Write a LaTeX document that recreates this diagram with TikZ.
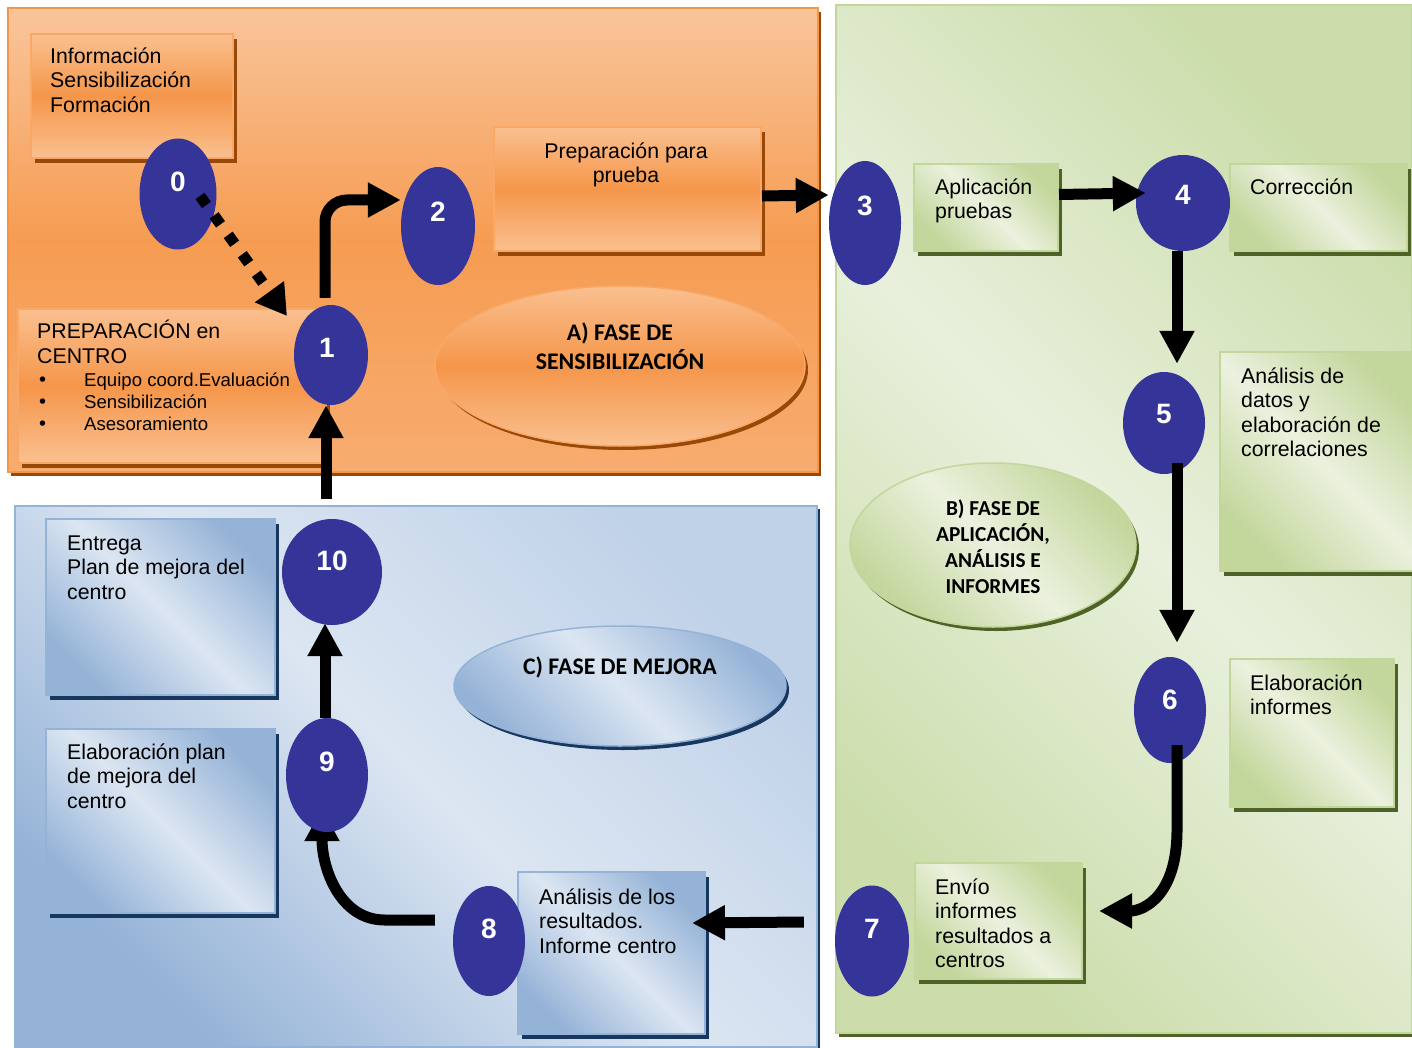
\documentclass[tikz,border=0pt]{standalone}
\usepackage{fontspec}
\setmainfont{Liberation Sans}
\newfontfamily\phasefont{Carlito}
\newfontfamily\bulfont{DejaVu Sans}
\usetikzlibrary{arrows.meta,shapes.geometric,calc}
\pgfdeclarelayer{bg}
\pgfdeclarelayer{mid}
\pgfsetlayers{bg,mid,main}
\definecolor{navy}{RGB}{53,52,153}
\definecolor{oLight}{HTML}{FAC090}
\definecolor{oMid}{HTML}{F5964A}
\definecolor{oBorder}{HTML}{F9A866}
\definecolor{oShadow}{HTML}{984807}
\definecolor{oPanTop}{HTML}{F9C59B}
\definecolor{oPanMid}{HTML}{F69C52}
\definecolor{oPanBot}{HTML}{F7AC70}
\definecolor{oPanBorder}{HTML}{F79646}
\definecolor{gLight}{HTML}{EBF1DE}
\definecolor{gDark}{HTML}{C3D69B}
\definecolor{gShadow}{HTML}{4F6228}
\definecolor{gPanLight}{HTML}{E8F0DC}
\definecolor{gPanDark}{HTML}{CCDDAB}
\definecolor{bLight}{HTML}{DCE6F2}
\definecolor{bDark}{HTML}{95B3D7}
\definecolor{bBorder}{HTML}{95B3D7}
\definecolor{bShadow}{HTML}{17375E}
\definecolor{bPanTR}{HTML}{C0D2E8}
\newcommand{\bulitem}{\makebox[48pt][l]{\hspace*{1pt}{\bulfont •}}}
\begin{document}
\begin{tikzpicture}[x=1pt,y=-1pt,
  txt/.style={font=\fontsize{21.3}{24.5}\selectfont, align=left, anchor=north west, inner sep=0pt},
  ctxt/.style={txt, align=center, anchor=north},
  bul/.style={font=\fontsize{18.6}{22}\selectfont, align=left, anchor=north west, inner sep=0pt},
  phasetxt/.style={font=\phasefont\bfseries\fontsize{23.8}{29}\selectfont, align=center, inner sep=0pt},
  phasetxtB/.style={font=\phasefont\bfseries\fontsize{21.3}{26}\selectfont, align=center, inner sep=0pt},
  num/.style={ellipse, fill=navy, inner sep=0pt},
  numtxt/.style={font=\bfseries\fontsize{28}{30}\selectfont, text=white, inner sep=0pt},
  arr/.style={line width=11pt, -{Triangle[length=33pt,width=33pt]}},
  dotarr/.style={line width=11pt, dash pattern=on 11pt off 13pt, -{Triangle[length=30pt,width=34pt]}},
  box/.style={rectangle, anchor=north west, inner sep=0pt, line width=2pt},
  obox/.style={box, draw=oBorder, top color=oLight, bottom color=oLight, middle color=oMid,
    preaction={fill=oShadow, transform canvas={xshift=4pt,yshift=-5pt}}},
  gbox/.style={box, draw=gDark, top color=gDark, bottom color=gDark, middle color=gLight, shading angle=-45,
    preaction={fill=gShadow, transform canvas={xshift=4pt,yshift=-5pt}}},
  bbox/.style={box, draw=bBorder, top color=bDark, bottom color=bDark, middle color=bLight, shading angle=-45,
    preaction={fill=bShadow, transform canvas={xshift=4pt,yshift=-5pt}}},
  phase/.style={ellipse, inner sep=0pt, line width=1.5pt},
]
\useasboundingbox (0,0) rectangle (1412,1048);

\begin{pgfonlayer}{bg}
\fill[white] (0,0) rectangle (1412,1048);
% panel A
\fill[oShadow] (11,12) rectangle (821,476);
\draw[oPanBorder, line width=1.5pt, top color=oPanTop, bottom color=oPanBot, middle color=oPanMid] (8,8) rectangle (818,472);
% panel B
\fill[gShadow] (839,9) rectangle (1415,1037);
\draw[gDark, line width=1.5pt, top color=gPanDark, bottom color=gPanDark, middle color=gPanLight, shading angle=-45] (836,5) rectangle (1412,1033);
% panel C
\fill[bShadow] (18,509) rectangle (820,1050);
\draw[bBorder, line width=1.5pt, top color=bPanTR, bottom color=bDark, middle color=bLight, shading angle=-45] (15,506) rectangle (817,1047);

% boxes
\node[obox, minimum width=202pt, minimum height=124pt] (info) at (30,33) {};
\node[obox, minimum width=267pt, minimum height=124pt] (prep) at (493,126) {};
\node[obox, minimum width=308pt, minimum height=154pt] (cent) at (17,308) {};
\node[gbox, minimum width=144pt, minimum height=87pt] (aplic) at (913,163) {};
\node[gbox, minimum width=177pt, minimum height=87pt] (corr) at (1229,163) {};
\node[gbox, minimum width=200pt, minimum height=219pt] (anal) at (1219,351) {};
\node[gbox, minimum width=164pt, minimum height=148pt] (elab) at (1229,658) {};
\node[gbox, minimum width=167pt, minimum height=116pt] (envio) at (914,862) {};
\node[bbox, minimum width=229pt, minimum height=176pt] (entrega) at (45,518) {};
\node[bbox, minimum width=229pt, minimum height=184pt] (elabplan) at (45,728) {};
\node[bbox, minimum width=187pt, minimum height=162pt] (analres) at (517,871) {};

% phase ellipses
\node[phase, minimum width=370pt, minimum height=160pt, draw=oBorder, top color=oLight, bottom color=oLight, middle color=oMid,
  preaction={fill=oShadow, transform canvas={xshift=3pt,yshift=-4pt}}] (phA) at (620,366) {};
\node[phase, minimum width=286pt, minimum height=164pt, draw=gDark, top color=gDark, bottom color=gDark, middle color=gLight, shading angle=-45,
  preaction={fill=gShadow, transform canvas={xshift=3pt,yshift=-4pt}}] (phB) at (993,545) {};
\node[phase, minimum width=332pt, minimum height=120pt, draw=bBorder, top color=bDark, bottom color=bDark, middle color=bLight, shading angle=-45,
  preaction={fill=bShadow, transform canvas={xshift=3pt,yshift=-4pt}}] (phC) at (620,686) {};
\end{pgfonlayer}

% texts
\node[txt] (tinfo) at (50,47.5) {Información\\Sensibilización\\Formación};
\node[ctxt] (tprep) at (626,142.5) {Preparación para\\prueba};
\node[txt] (tcent) at (37,320) {PREPARACIÓN en\\CENTRO};
\node[bul] (tbul) at (36,373) {\bulitem Equipo coord.Evaluación\\\bulitem Sensibilización\\\bulitem Asesoramiento};
\node[txt] (taplic) at (935,178.5) {Aplicación\\pruebas};
\node[txt] (tcorr) at (1250,178.5) {Corrección};
\node[txt] (tanal) at (1241,367.5) {Análisis de\\datos y\\elaboración de\\correlaciones};
\node[txt] (telab) at (1250,674.5) {Elaboración\\informes};
\node[txt] (tenvio) at (935,878.5) {Envío\\informes\\resultados a\\centros};
\node[txt] (tentrega) at (67,535.5) {Entrega\\Plan de mejora del\\centro};
\node[txt] (telabplan) at (67,743.5) {Elaboración plan\\de mejora del\\centro};
\node[txt] (tanalres) at (539,888.5) {Análisis de los\\resultados.\\Informe centro};

\node[phasetxt] (tA) at (620,346) {A) FASE DE\\SENSIBILIZACIÓN};
\node[phasetxtB] (tB) at (993,547) {B) FASE DE\\APLICACIÓN,\\ANÁLISIS E\\INFORMES};
\node[phasetxt] (tC) at (620,667) {C) FASE DE MEJORA};

% number ellipses
\node[num, minimum width=77pt, minimum height=111pt] (n0) at (178,194) {};
\node[num, minimum width=74pt, minimum height=100pt] (n1) at (331,355) {};
\node[num, minimum width=74pt, minimum height=118pt] (n2) at (438,226) {};
\node[num, minimum width=72pt, minimum height=124pt] (n3) at (865,223) {};
\node[num, minimum width=94pt, minimum height=96pt] (n4) at (1183,203) {};
\node[num, minimum width=82pt, minimum height=102pt] (n5) at (1164,423) {};
\node[num, minimum width=72pt, minimum height=106pt] (n6) at (1170,710) {};
\node[num, minimum width=74pt, minimum height=111pt] (n7) at (872,941) {};
\node[num, minimum width=72pt, minimum height=110pt] (n8) at (489,941) {};
\node[num, minimum width=82pt, minimum height=114pt] (n9) at (327,775) {};
\node[num, minimum width=100pt, minimum height=106pt] (n10) at (332,572) {};

\node[numtxt] (l0) at (178,182) {0};
\node[numtxt] (l1) at (327,348) {1};
\node[numtxt] (l2) at (438,212) {2};
\node[numtxt] (l3) at (865,206) {3};
\node[numtxt] (l4) at (1183,195) {4};
\node[numtxt] (l5) at (1164,414) {5};
\node[numtxt] (l6) at (1170,700) {6};
\node[numtxt] (l7) at (872,929) {7};
\node[numtxt] (l8) at (489,929) {8};
\node[numtxt] (l9) at (327,762) {9};
\node[numtxt] (l10) at (332,561) {10};

% arrows
\draw[dotarr] ($(n0.center)+(22,2)$) -- ($(n1.center)+(-44,-39)$);
\draw[arr, rounded corners=22pt] ($(n1.north)+(-6,-7)$) |- ($(n2.west)+(0,-26)$);
\draw[arr] ($(prep.east)+(0,7)$) -- ($(n3.west)+(0,-28)$);
\draw[arr] ($(aplic.east)+(0,-13)$) -- ($(n4.west)+(10,-10)$);
\draw[arr] ($(n4.south)+(-6,0)$) -- ($(n5.north)+(13,-8)$);
\draw[arr] ($(n5.south)+(13,-11)$) -- ($(n6.north)+(7,-14)$);
\draw[arr] ($(n6.south)+(7,-18)$) -- ++(0,85) .. controls +(0,65) and +(45,0) .. ($(envio.east)+(16,-10)$);
\draw[arr] ($(n7.west)+(-31,-19)$) -- ($(analres.east)+(-14,-30)$);
\begin{pgfonlayer}{mid}
\draw[arr] ($(n8.west)+(-18,-21)$) -- ++(-50,0) .. controls +(-45,0) and +(0,60) .. ($(n9.south)+(-5,-24)$);
\end{pgfonlayer}
\draw[arr] ($(n9.north)+(-2,0)$) -- ($(n10.south)+(-7,-2)$);
\draw[arr] ($(n10.north)+(-6,-20)$) -- ($(n1.south)+(-5,0)$);
\end{tikzpicture}
\end{document}
